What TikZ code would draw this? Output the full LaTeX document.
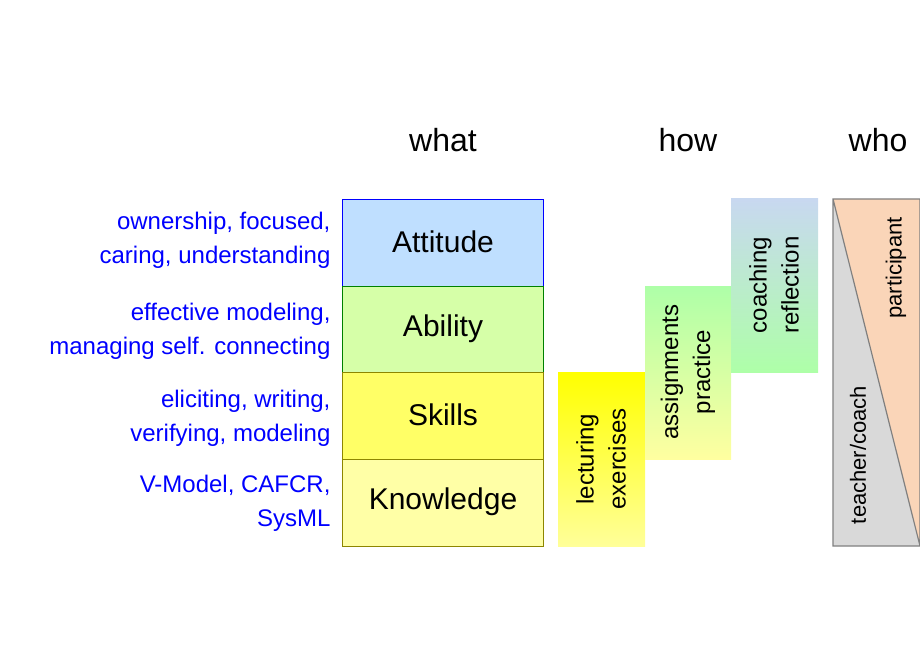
\documentclass[tikz,border=0pt]{standalone}
\usepackage{fontspec}
\setmainfont{Liberation Sans}
\begin{document}
\begin{tikzpicture}[x=1pt,y=-1pt,
 hdr/.style={font=\fontsize{32}{36}\selectfont},
 lvl/.style={font=\fontsize{30}{34}\selectfont},
 side/.style={font=\fontsize{24}{34}\selectfont,text=blue,align=right,anchor=east},
 rot/.style={font=\fontsize{24}{32}\selectfont,rotate=90,align=center}]
\useasboundingbox (0,0) rectangle (920,660);
\definecolor{cA}{HTML}{BFDFFF}\definecolor{cB}{HTML}{D6FFA8}
\definecolor{cC}{HTML}{FFFF66}\definecolor{cD}{HTML}{FFFFA6}
\definecolor{gG}{HTML}{AEFFA8}\definecolor{gY}{HTML}{FFFFA0}
\definecolor{gB}{HTML}{C8D8F0}\definecolor{pe}{HTML}{FAD5B8}
\node[hdr] (what) at (443,140) {what};
\node[hdr] (how) at (688,140) {how};
\node[hdr] (who) at (878,140) {who};
\draw[fill=cA,draw=blue] (342,199) rectangle (543,286);
\draw[fill=cB,draw=green!50!black] (342,286) rectangle (543,372);
\draw[fill=cC,draw=olive] (342,372) rectangle (543,459);
\draw[fill=cD,draw=olive] (342,459) rectangle (543,546);
\node[lvl] (att) at (443,242) {Attitude};
\node[lvl] (abi) at (443,329) {Ability};
\node[lvl] (ski) at (443,415) {Skills};
\node[lvl] (kno) at (443,502) {Knowledge};
\node[side] (s1) at (334,240) {ownership, focused,\\caring, understanding};
\node[side] (s2) at (334,331) {effective modeling,\\managing self. connecting};
\node[side] (s3) at (334,418) {eliciting, writing,\\verifying, modeling};
\node[side] (s4) at (334,503) {V-Model, CAFCR,\\SysML};
\shade[top color=yellow,bottom color=yellow!40] (558,372) rectangle (645,546);
\shade[top color=gG,bottom color=gY] (645,286) rectangle (731,459);
\shade[top color=gB,bottom color=gG] (731,199) rectangle (818,372);
\node[rot] (lec) at (601,459) {lecturing\\exercises};
\node[rot] (asg) at (688,372) {assignments\\practice};
\node[rot] (coa) at (774,285) {coaching\\reflection};
\fill[gray!30] (833,199) -- (920,546) -- (833,546) -- cycle;
\fill[pe] (833,199) -- (920,199) -- (920,546) -- cycle;
\draw[gray,line width=1.2pt] (833,199) rectangle (920,546) (833,199) -- (920,546);
\node[font=\fontsize{22}{26}\selectfont,rotate=90] (tc) at (858,455) {teacher/coach};
\node[font=\fontsize{22}{26}\selectfont,rotate=90] (pa) at (896,268) {participant};
\end{tikzpicture}
\end{document}
